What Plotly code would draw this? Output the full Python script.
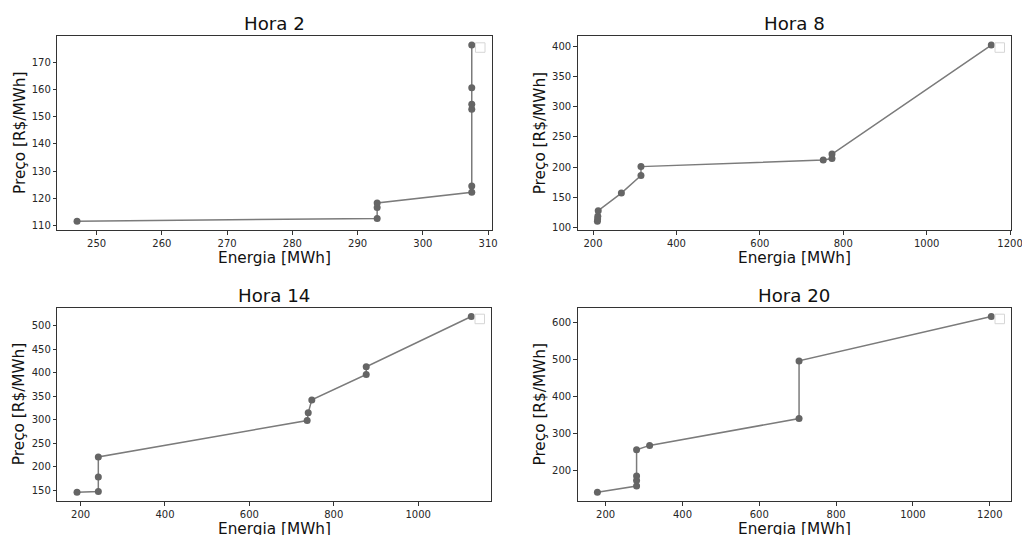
import plotly.graph_objects as go
from plotly.subplots import make_subplots

# Supply curves (energy offered vs. price) for four hours of the day
hora2_energia = [247.0, 293.0, 293.0, 293.0, 307.5, 307.5, 307.5, 307.5, 307.5, 307.5]
hora2_preco = [111.6, 112.6, 116.6, 118.3, 122.2, 124.5, 152.7, 154.6, 160.6, 176.3]

hora8_energia = [210.5, 211.0, 211.5, 212.5, 268.0, 315.0, 315.0, 752.0, 773.0, 773.0, 1155.0]
hora8_preco = [110.5, 114.3, 118.5, 127.8, 157.0, 186.0, 200.7, 211.6, 214.0, 221.5, 401.5]

hora14_energia = [191.5, 242.0, 242.0, 242.0, 737.0, 739.5, 748.0, 877.0, 877.0, 1126.0]
hora14_preco = [145.5, 147.0, 178.0, 220.5, 298.0, 314.5, 342.0, 396.0, 412.5, 519.5]

hora20_energia = [178.5, 280.5, 280.5, 280.5, 280.5, 314.5, 703.5, 703.5, 1204.0]
hora20_preco = [140.5, 157.0, 172.5, 184.0, 255.5, 267.0, 339.5, 495.5, 615.5]

titulos = ["Hora 2", "Hora 8", "Hora 14", "Hora 20"]
series = [
    (hora2_energia, hora2_preco),
    (hora8_energia, hora8_preco),
    (hora14_energia, hora14_preco),
    (hora20_energia, hora20_preco),
]
x_ticks = [
    list(range(250, 311, 10)),
    list(range(200, 1201, 200)),
    list(range(200, 1001, 200)),
    list(range(200, 1201, 200)),
]
y_ticks = [
    list(range(110, 171, 10)),
    list(range(100, 401, 50)),
    list(range(150, 501, 50)),
    list(range(200, 601, 100)),
]

W, H = 1022, 535
FONT = "DejaVu Sans"
LINE_COLOR = "#7b7b7b"
MARKER_COLOR = "#656565"
AXIS_COLOR = "#333333"

# Plot areas in pixels: (left, right, top, bottom)
areas = [
    (57.3, 491.5, 36.3, 230.0),
    (577.7, 1011.0, 36.3, 230.0),
    (57.3, 491.0, 307.7, 501.0),
    (577.7, 1011.0, 307.7, 501.0),
]

fig = make_subplots(rows=2, cols=2)


def padded(vals, frac=0.05):
    lo, hi = min(vals), max(vals)
    d = (hi - lo) * frac
    return [lo - d, hi + d]


for i, ((ex, py), (l, r, t, b)) in enumerate(zip(series, areas)):
    row, col = i // 2 + 1, i % 2 + 1
    fig.add_trace(
        go.Scatter(
            x=ex, y=py, mode="lines+markers",
            line=dict(color=LINE_COLOR, width=1.5),
            marker=dict(color=MARKER_COLOR, size=7),
            showlegend=False,
        ),
        row=row, col=col,
    )
    axis_common = dict(
        showgrid=False, zeroline=False, showline=True, mirror=True,
        linecolor=AXIS_COLOR, linewidth=1, ticks="outside", ticklen=3.5,
        tickwidth=1, tickcolor=AXIS_COLOR, automargin=False,
        ticklabeloverflow="allow",
        tickfont=dict(family=FONT, size=10, color="#262626"),
    )
    fig.update_xaxes(
        domain=[l / W, r / W], range=padded(ex), tickvals=x_ticks[i],
        row=row, col=col, **axis_common,
    )
    fig.update_yaxes(
        domain=[1 - b / H, 1 - t / H], range=padded(py), tickvals=y_ticks[i],
        row=row, col=col, **axis_common,
    )

    xname = "x" if i == 0 else f"x{i + 1}"
    yname = "y" if i == 0 else f"y{i + 1}"
    cx = (l + r) / 2
    cy = (t + b) / 2
    # subplot title
    fig.add_annotation(
        text=titulos[i], x=cx / W, y=1 - (t - 12.3) / H, xref="paper", yref="paper",
        xanchor="center", yanchor="middle", showarrow=False,
        font=dict(family=FONT, size=18.2, color="#111111"),
    )
    # axis titles
    fig.add_annotation(
        text="Energia [MWh]", x=cx / W, y=1 - (b + 27.7) / H, xref="paper", yref="paper",
        xanchor="center", yanchor="middle", showarrow=False,
        font=dict(family=FONT, size=15.3, color="#111111"),
    )
    fig.add_annotation(
        text="Preço [R$/MWh]", x=(l - 37.5) / W, y=1 - cy / H, xref="paper", yref="paper",
        xanchor="center", yanchor="middle", showarrow=False, textangle=-90,
        font=dict(family=FONT, size=15.3, color="#111111"),
    )
    # empty legend frame in the upper-right corner
    fig.add_shape(
        type="rect", xref=f"{xname} domain", yref=f"{yname} domain",
        xsizemode="pixel", ysizemode="pixel", xanchor=1, yanchor=1,
        x0=-16, x1=-6.5, y0=-16, y1=-6.5,
        line=dict(color="#d6d6d6", width=1), fillcolor="white",
    )

fig.update_layout(
    width=W, height=H,
    margin=dict(l=0, r=0, t=0, b=0),
    paper_bgcolor="white", plot_bgcolor="white",
    font=dict(family=FONT),
    showlegend=False,
)

fig.write_html("out.html", config={"responsive": False})
